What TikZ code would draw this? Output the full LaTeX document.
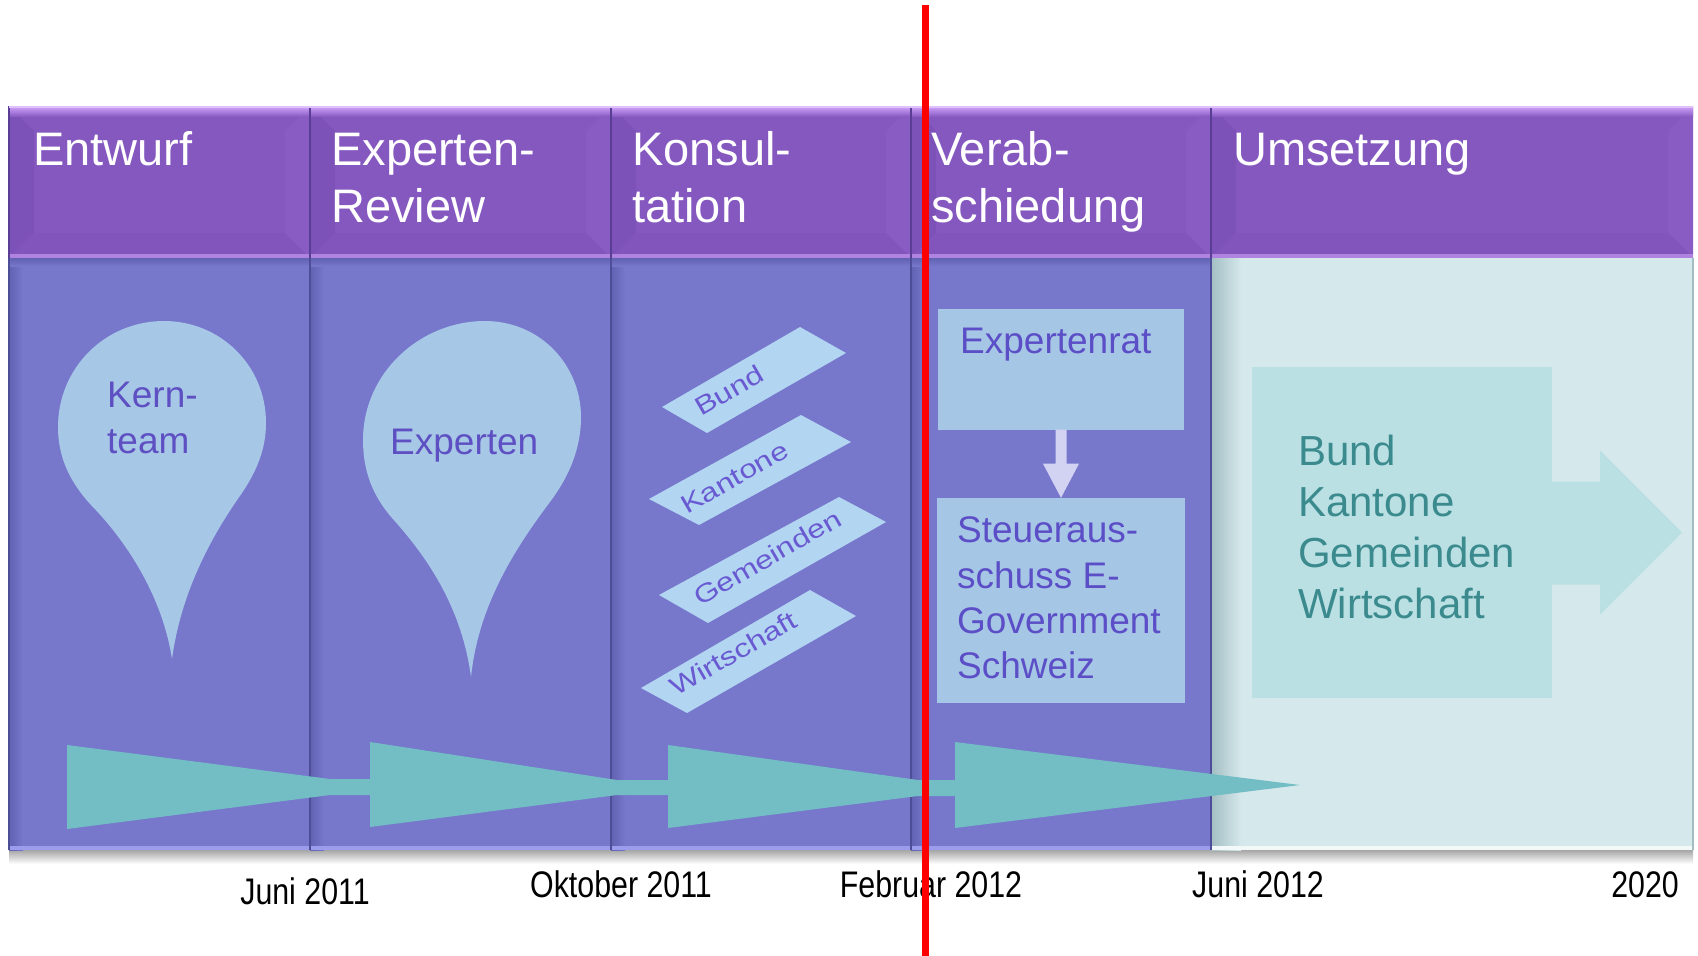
\documentclass[tikz,border=0pt]{standalone}
\usepackage{fontspec}
\setmainfont{Liberation Sans}
\usetikzlibrary{calc}
\definecolor{hdr}{HTML}{8558C0}
\definecolor{hdrtop}{HTML}{D3A6FC}
\definecolor{hdrmid}{HTML}{8B5EC6}
\definecolor{hdrL}{HTML}{7D52B8}
\definecolor{hdrR}{HTML}{895CC4}
\definecolor{hdrB}{HTML}{8255BC}
\definecolor{hdrline}{HTML}{5A3E96}
\definecolor{bodyc}{HTML}{7777CC}
\definecolor{bodyedge}{HTML}{6262B2}
\definecolor{bodydark}{HTML}{4E4E98}
\definecolor{bodylight}{HTML}{9C9CEC}
\definecolor{umsbg}{HTML}{D5E8EB}
\definecolor{umsedge}{HTML}{A3BEC3}
\definecolor{drop}{HTML}{A6C7E6}
\definecolor{droptext}{HTML}{5E50C2}
\definecolor{para}{HTML}{B2D5F2}
\definecolor{paratext}{HTML}{6A5AD2}
\definecolor{boxfill}{HTML}{A6C6E6}
\definecolor{boxtext}{HTML}{5B4EC6}
\definecolor{darrow}{HTML}{D2D2F2}
\definecolor{umsbox}{HTML}{BAE0E3}
\definecolor{umstext}{HTML}{3A8A8E}
\definecolor{tealc}{HTML}{72BEC4}
\definecolor{redline}{HTML}{FF0000}
\tikzset{
  hdrtext/.style={anchor=base west, inner sep=0pt, text=white, font=\fontsize{47}{57}\selectfont},
  droptxt/.style={anchor=base west, inner sep=0pt, text=droptext, font=\fontsize{37}{44}\selectfont},
  paratxt/.style={anchor=base west, inner sep=0pt, text=paratext, font=\fontsize{32}{40}\selectfont, rotate=30, yscale=0.8},
  boxtxt/.style={anchor=base west, inner sep=0pt, text=boxtext, font=\fontsize{37}{45}\selectfont},
  umstxt/.style={anchor=base west, inner sep=0pt, text=umstext, font=\fontsize{42}{51}\selectfont},
  datetxt/.style={anchor=base, inner sep=0pt, text=black, font=\fontsize{37}{44}\selectfont, xscale=0.82},
  lightbox/.style={fill=boxfill, draw=none, inner sep=0pt},
  tealshape/.style={fill=tealc, draw=none},
}
\begin{document}
\begin{tikzpicture}[x=1pt,y=-1pt]
\useasboundingbox (0,0) rectangle (1698,956);
\fill[white] (0,0) rectangle (1698,956);

% shadow under the band
\shade[top color=black!35, bottom color=white] (9,850) rectangle (1693,864);

% columns
\foreach \xa/\xb in {9/310, 310/611, 611/911, 911/1211, 1211/1693}{
  \fill[hdr] (\xa,106) rectangle (\xb,258);
  \fill[hdrL] (\xa,106) -- ({\xa+25},131) -- ({\xa+25},233) -- (\xa,258) -- cycle;
  \fill[hdrR] (\xb,106) -- ({\xb-25},131) -- ({\xb-25},233) -- (\xb,258) -- cycle;
  \fill[hdrB] (\xa,258) -- ({\xa+25},233) -- ({\xb-25},233) -- (\xb,258) -- cycle;
  \shade[top color=hdrtop, bottom color=hdrmid] (\xa,106) rectangle (\xb,116);
  \fill[hdrtop!55!hdr] (\xa,254) rectangle (\xb,258);
  \draw[hdrline, line width=2] (\xa,106) -- (\xa,258);
}
\foreach \xa/\xb in {9/310, 310/611, 611/911, 911/1211}{
  \fill[bodyc] (\xa,258) rectangle (\xb,850);
  \shade[left color=bodyedge, right color=bodyc] (\xa,258) rectangle ({\xa+14},850);
  \shade[top color=bodyedge, bottom color=bodyc] (\xa,258) rectangle (\xb,266);
  \fill[bodylight] (\xa,846) rectangle (\xb,850);
  \draw[bodydark, line width=2] (\xa,258) -- (\xa,850);
}
\fill[umsbg] (1211,258) rectangle (1693,850);
\shade[left color=umsedge, right color=umsbg] (1211,258) rectangle (1241,850);
\fill[white!70!umsbg] (1211,846) rectangle (1693,850);
\draw[umsedge, line width=2] (1693,258) -- (1693,850);
\draw[bodydark, line width=2] (1211,258) -- (1211,850);
\fill[hdrtop!70!white] (9,106) rectangle (1693,108);

% header texts
\node[hdrtext] (h1) at (33,165) {Entwurf};
\node[hdrtext] (h2a) at (331,165) {Experten-};
\node[hdrtext] (h2b) at (331,222) {Review};
\node[hdrtext] (h3a) at (632,165) {Konsul-};
\node[hdrtext] (h3b) at (632,222) {tation};
\node[hdrtext] (h4a) at (931,165) {Verab-};
\node[hdrtext] (h4b) at (931,222) {schiedung};
\node[hdrtext] (h5) at (1233,165) {Umsetzung};

% teardrops
\fill[drop] (172,659) .. controls (163,600) and (130,545) .. (91,505)
  .. controls (68,480) and (58,455) .. (58,427)
  .. controls (58,368) and (105,321) .. (164,321)
  .. controls (220,321) and (266,365) .. (266,423)
  .. controls (266,450) and (256,472) .. (242,493)
  .. controls (205,545) and (180,600) .. (172,659) -- cycle;
\fill[drop] (471,677) .. controls (462,610) and (430,560) .. (392,518)
  .. controls (372,495) and (363,470) .. (363,440)
  .. controls (363,373) and (420,321) .. (485,321)
  .. controls (540,321) and (581,365) .. (581,417)
  .. controls (581,450) and (568,478) .. (550,502)
  .. controls (510,555) and (478,610) .. (471,677) -- cycle;
\node[droptxt] (kt1) at (107,407) {Kern-};
\node[droptxt] (kt2) at (107,453) {team};
\node[droptxt] (ex) at (390,454) {Experten};

% parallelograms
\fill[para] (662,407) -- (800,327) -- (846,353) -- (707,433) -- cycle;
\fill[para] (649,499) -- (801,415) -- (851,442) -- (699,525) -- cycle;
\fill[para] (659,595) -- (839,497) -- (886,522) -- (708,623) -- cycle;
\fill[para] (641,688) -- (810,590) -- (856,616) -- (687,713) -- cycle;
\node[paratxt] (p1) at (701,417) {Bund};
\node[paratxt] (p2) at (687,515) {Kantone};
\node[paratxt] (p3) at (700,607) {Gemeinden};
\node[paratxt] (p4) at (676,697) {Wirtschaft};

% Verabschiedung boxes
\node[lightbox, minimum width=246, minimum height=121] (er) at (1061,369) {};
\node[lightbox, minimum width=248, minimum height=205] (st) at (1061,600.5) {};
\fill[darrow] ($(er.south)+(-5.5,0)$) -- ($(er.south)+(5.5,0)$) -- ($(er.south)+(5.5,34)$)
  -- ($(er.south)+(18,34)$) -- (st.north) -- ($(er.south)+(-18,34)$) -- ($(er.south)+(-5.5,34)$) -- cycle;
\node[boxtxt] (ert) at (960,353) {Expertenrat};
\node[boxtxt] (st1) at (957,542) {Steueraus-};
\node[boxtxt] (st2) at (957,588) {schuss E-};
\node[boxtxt] (st3) at (957,633) {Government};
\node[boxtxt] (st4) at (957,678) {Schweiz};

% Umsetzung box and arrow
\node[fill=umsbox, draw=none, inner sep=0pt, minimum width=300, minimum height=331] (ub) at (1402,532.5) {};
\fill[umsbox] ($(ub.east)+(0,-51)$) -- ($(ub.east)+(48,-51)$) -- ($(ub.east)+(48,-82)$)
  -- ($(ub.east)+(130,0)$) -- ($(ub.east)+(48,82)$) -- ($(ub.east)+(48,52)$) -- ($(ub.east)+(0,52)$) -- cycle;
\node[umstxt] (u1) at (1298,465) {Bund};
\node[umstxt] (u2) at (1298,516) {Kantone};
\node[umstxt] (u3) at (1298,567) {Gemeinden};
\node[umstxt] (u4) at (1298,618) {Wirtschaft};

% teal timeline arrows
\fill[tealshape] (67,745) -- (330,779) -- (372,779) -- (372,795) -- (330,795) -- (67,829) -- cycle;
\fill[tealshape] (370,742) -- (617,780) -- (670,780) -- (670,795) -- (617,795) -- (370,827) -- cycle;
\fill[tealshape] (668,745) -- (918,780) -- (957,780) -- (957,796) -- (918,796) -- (668,828) -- cycle;
\fill[tealshape] (955,742) -- (1300,785) -- (955,828) -- cycle;

% dates
\node[datetxt] (d1) at (305,904) {Juni 2011};
\node[datetxt] (d2) at (621,897) {Oktober 2011};
\node[datetxt] (d3) at (931,897) {Februar 2012};
\node[datetxt] (d4) at (1258,897) {Juni 2012};
\node[datetxt] (d5) at (1645,897) {2020};

% red line
\coordinate (rt) at (925.5,5);
\coordinate (rb) at (925.5,956);
\draw[redline, line width=7.5] (rt) -- (rb);
\end{tikzpicture}
\end{document}
